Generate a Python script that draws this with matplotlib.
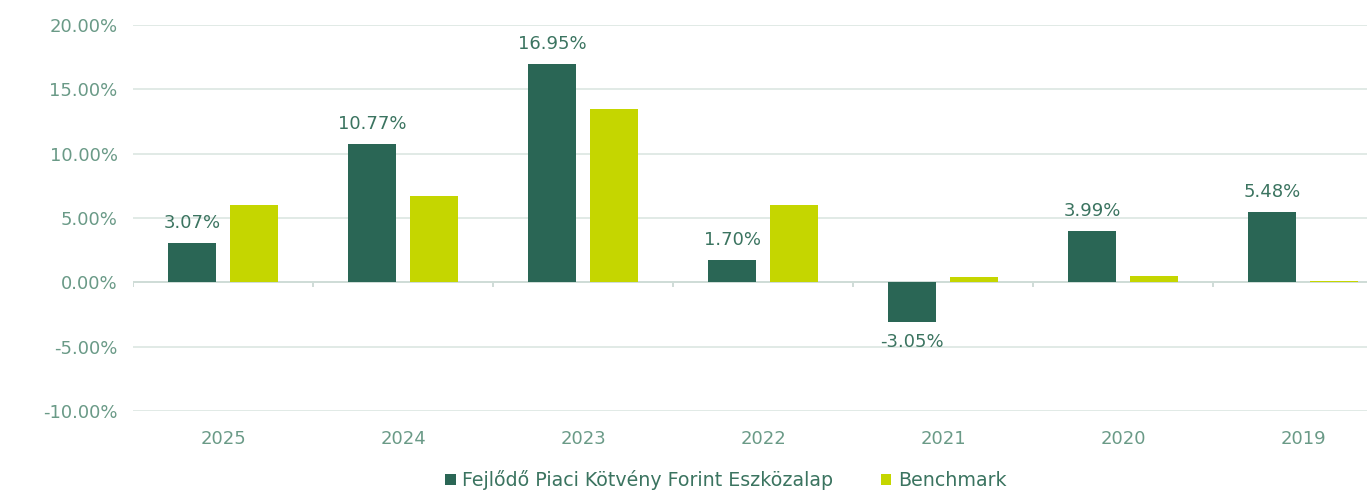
import matplotlib
matplotlib.use("Agg")
import matplotlib.pyplot as plt
import numpy as np
from matplotlib.ticker import FuncFormatter, MultipleLocator

years = ["2025", "2024", "2023", "2022", "2021", "2020", "2019"]
fund = [3.07, 10.77, 16.95, 1.70, -3.05, 3.99, 5.48]
bench = [5.98, 6.68, 13.5, 5.98, 0.39, 0.47, 0.08]
fund_name = "Fejlődő Piaci Kötvény Forint Eszközalap"
bench_name = "Benchmark"

DARK = "#2a6655"
LIME = "#c5d600"
TICK = "#6a9a87"
LABEL = "#3b7460"
GRID = "#dbe6e2"

plt.rcParams['font.family'] = ['DejaVu Sans']

fig = plt.figure(figsize=(13.67, 4.9), dpi=100)
ax = fig.add_axes([133/1367, 1-411/490, 1260/1367, (411-25)/490])

x = np.arange(len(years))
w = 0.267
off = 0.17
b1 = ax.bar(x - off, fund, w, color=DARK, label=fund_name, zorder=3)
b2 = ax.bar(x + off, bench, w, color=LIME, label=bench_name, zorder=3)

ax.bar_label(b1, labels=[f"{v:.2f}%" for v in fund], padding=8,
             fontsize=13, color=LABEL)

ax.set_xlim(-0.5, len(years) - 0.5)
ax.set_ylim(-10, 20)
ax.yaxis.set_major_locator(MultipleLocator(5))
ax.yaxis.set_major_formatter(FuncFormatter(lambda v, p: f"{v:.2f}%"))
ax.grid(axis='y', color=GRID, linewidth=1.2, zorder=0)
ax.set_axisbelow(True)
for s in ax.spines.values():
    s.set_visible(False)
ax.set_xticks(x)
ax.set_xticklabels(years)
ax.tick_params(axis='x', length=0, pad=14, labelsize=13, labelcolor=TICK)
ax.tick_params(axis='y', length=0, pad=11, labelsize=13, labelcolor=TICK)

# zero baseline with category boundary ticks
ax.axhline(0, color="#cfdcd7", linewidth=1.4, zorder=2)
bounds = np.arange(len(years) + 1) - 0.5
ax.vlines(bounds, -0.4, 0, color="#cfdcd7", linewidth=1.4, zorder=2)

leg = fig.legend(loc='center', bbox_to_anchor=(0.531, 0.02), ncol=2,
                 frameon=False, fontsize=13.7, handlelength=0.55, handleheight=0.55,
                 handletextpad=0.35, columnspacing=2.5, labelcolor=LABEL)

fig.savefig("out.png", dpi=100)
